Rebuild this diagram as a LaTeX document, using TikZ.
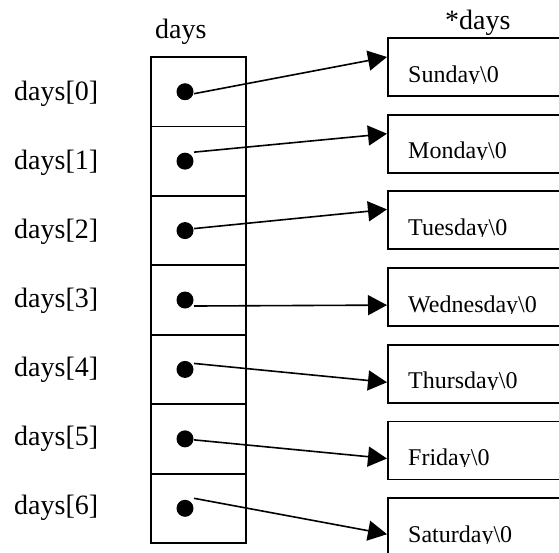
\documentclass[tikz,border=0pt]{standalone}
\usepackage{fontspec}
\setmainfont{Liberation Serif}
\usetikzlibrary{arrows.meta,calc}
\tikzset{
  cell/.style={draw, line width=1.8pt, minimum width=95pt, minimum height=69.4pt, inner sep=0pt, outer sep=0pt},
  ptr/.style={circle, fill, inner sep=0pt, minimum size=17pt},
  strbox/.style={draw, line width=1.8pt, anchor=north west, minimum width=230pt, minimum height=58pt, inner sep=0pt},
  lbl/.style={font=\fontsize{28}{30}\selectfont, inner sep=0pt, anchor=base west},
  strtext/.style={font=\fontsize{24}{26}\selectfont, inner sep=0pt, anchor=base west},
  link/.style={line width=1.6pt, -{Triangle[length=19pt,width=20pt]}},
}
\begin{document}
\begin{tikzpicture}[x=1pt,y=-1pt]
  \clip (0,0) rectangle (559,552);

  % headers
  \node[lbl] (hdays) at (155,38) {days};
  \node[lbl] (hstar) at (445,29) {*days};

  % array of pointers with index labels
  \foreach \k in {0,...,6} {
    \node[cell] (c\k) at (198.5,{57+69.43*(\k+0.5)}) {};
    \node[ptr] (d\k) at (185,{57+69.43*(\k+0.5)}) {};
    \node[lbl] (i\k) at (14,{100+69*\k}) {days[\k]};
  }

  % the strings, each text clipped at its baseline
  \foreach \k/\name in {0/Sunday,1/Monday,2/Tuesday,3/Wednesday,4/Thursday,5/Friday,6/Saturday} {
    \node[strbox] (b\k) at (387,{37+76.7*\k}) {};
    \begin{scope}
      \clip ($(b\k.north west)$) rectangle ($(b\k.north west)+(200,46)$);
      \node[strtext] (w\k) at ($(b\k.north west)+(21,45)$) {\name\textbackslash 0};
    \end{scope}
  }

  % pointer links
  \foreach \k/\sy/\ty in {0/2/20,1/-9/20,2/-2/19,3/6/38,4/-6/38.5,5/1/38,6/-10/37} {
    \coordinate (s\k) at ($(d\k)+(9,\sy)$);
    \coordinate (t\k) at ($(b\k.north west)+(0,\ty)$);
    \draw[link] (s\k) -- (t\k);
  }
\end{tikzpicture}
\end{document}
